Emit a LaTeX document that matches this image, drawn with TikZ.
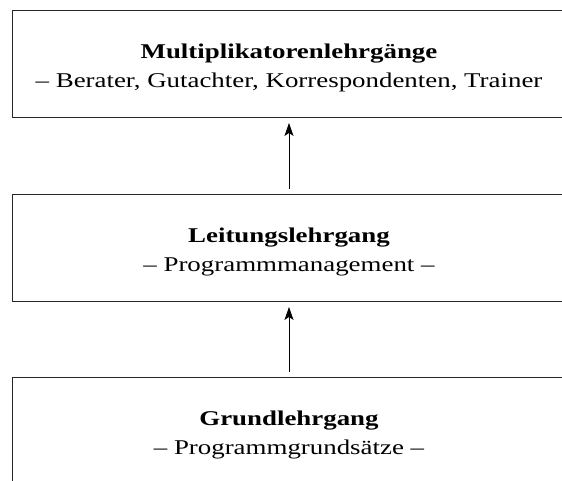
\documentclass[tikz,border=0pt]{standalone}
\usepackage{fontspec}
\setmainfont{Liberation Serif}[FakeStretch=1.28]
\usetikzlibrary{arrows.meta}

\begin{document}
\begin{tikzpicture}[x=1pt,y=-1pt,
	stufe/.style={draw=black!85,line width=0.9pt,minimum width=554pt,minimum height=107pt,inner sep=0pt},
	inhalt/.style={inner sep=0pt,align=center,font=\fontsize{21}{29}\selectfont,yshift=-4.5pt},
	pfeil/.style={-{Stealth[length=13pt,width=9pt,inset=3pt]},line width=0.8pt,shorten >=5.5pt,shorten <=5pt}]
	\useasboundingbox (0,0) rectangle (562,480);
	\node[stufe] (multi) at (289,63.5) {};
	\node[stufe] (leitung) at (289,247.5) {};
	\node[stufe] (grund) at (289,430.5) {};
	\node[inhalt] (multitext) at (multi) {\textbf{Multiplikatorenlehrgänge}\\– Berater, Gutachter, Korrespondenten, Trainer};
	\node[inhalt] (leitungtext) at (leitung) {\textbf{Leitungslehrgang}\\– Programmmanagement –};
	\node[inhalt] (grundtext) at (grund) {\textbf{Grundlehrgang}\\– Programmgrundsätze –};
	\draw[pfeil] (leitung) -- (multi);
	\draw[pfeil] (grund) -- (leitung);
\end{tikzpicture}
\end{document}
